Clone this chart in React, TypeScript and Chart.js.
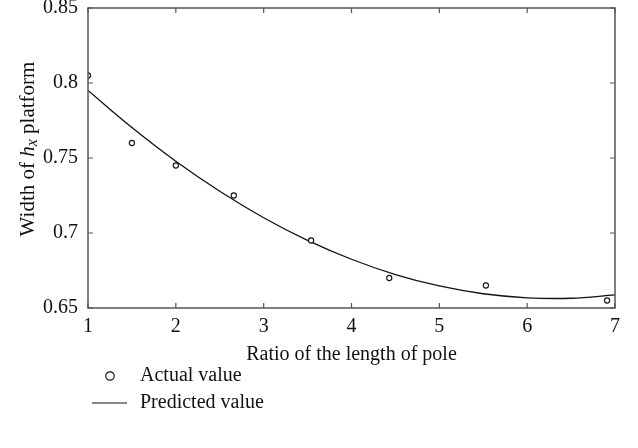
import React, { useEffect, useRef } from "react";
import { Chart, registerables } from "chart.js";

Chart.register(...registerables);

const actualX = [1.0, 1.5, 2.0, 2.66, 3.54, 4.43, 5.53, 6.91];
const actualY = [0.805, 0.76, 0.745, 0.725, 0.695, 0.67, 0.665, 0.655];

const predictedX = [1, 1.5, 2, 2.5, 3, 3.5, 4, 4.5, 5, 5.5, 6, 6.5, 7];
const predictedY = [0.795, 0.7703, 0.7478, 0.7278, 0.7102, 0.6951, 0.6825, 0.6723, 0.6647, 0.6595, 0.6568, 0.6565, 0.6587];

const xTicks = [1, 2, 3, 4, 5, 6, 7];
const yTicks = [0.65, 0.7, 0.75, 0.8, 0.85];

const xTitle = "Ratio of the length of pole";
const yTitleParts = [
  { text: "Width of ", italic: false, sub: false },
  { text: "h", italic: true, sub: false },
  { text: "x", italic: true, sub: true },
  { text: " platform", italic: false, sub: false },
];
const legendLabels = ["Actual value", "Predicted value"];

const FONT = "'Liberation Serif', 'DejaVu Serif', serif";
const AXIS = "#555555";
const FS = 20;

export default function App() {
  const ref = useRef<HTMLCanvasElement>(null);

  useEffect(() => {
    document.body.style.margin = "0";
    const canvas = ref.current;
    if (!canvas) return;

    const framePlugin = {
      id: "frame",
      afterDraw(chart: any) {
        const ctx = chart.ctx;
        const { left, right, top, bottom } = chart.chartArea;
        const xs = chart.scales.x;
        const ys = chart.scales.y;
        ctx.save();
        ctx.strokeStyle = AXIS;
        ctx.lineWidth = 1.5;
        ctx.strokeRect(left, top, right - left, bottom - top);
        ctx.lineWidth = 1.2;
        const tl = 5;
        ctx.beginPath();
        xTicks.forEach((v) => {
          const px = xs.getPixelForValue(v);
          ctx.moveTo(px, bottom);
          ctx.lineTo(px, bottom - tl);
          ctx.moveTo(px, top);
          ctx.lineTo(px, top + tl);
        });
        yTicks.forEach((v) => {
          const py = ys.getPixelForValue(v);
          ctx.moveTo(left, py);
          ctx.lineTo(left + tl, py);
          ctx.moveTo(right, py);
          ctx.lineTo(right - tl, py);
        });
        ctx.stroke();

        // y title
        ctx.fillStyle = "#111";
        ctx.textBaseline = "middle";
        const size = 21;
        const fontFor = (p: any) =>
          `${p.italic ? "italic " : ""}${p.sub ? Math.round(size * 0.75) : size}px ${FONT}`;
        let total = 0;
        yTitleParts.forEach((p) => {
          ctx.font = fontFor(p);
          total += ctx.measureText(p.text).width;
        });
        ctx.translate(28, 149);
        ctx.rotate(-Math.PI / 2);
        let x = -total / 2;
        yTitleParts.forEach((p) => {
          ctx.font = fontFor(p);
          ctx.fillText(p.text, x, p.sub ? 5 : 0);
          x += ctx.measureText(p.text).width;
        });
        ctx.restore();

        // legend
        ctx.save();
        const ds0 = chart.data.datasets[0];
        const ds1 = chart.data.datasets[1];
        ctx.font = `${FS}px ${FONT}`;
        ctx.fillStyle = "#111";
        ctx.textBaseline = "middle";
        ctx.strokeStyle = ds0.borderColor;
        ctx.lineWidth = 1.2;
        ctx.beginPath();
        ctx.arc(110, 376, 4.2, 0, Math.PI * 2);
        ctx.stroke();
        ctx.fillText(legendLabels[0], 140, 376);
        ctx.strokeStyle = ds1.borderColor;
        ctx.beginPath();
        ctx.moveTo(92, 403);
        ctx.lineTo(127, 403);
        ctx.stroke();
        ctx.fillText(legendLabels[1], 140, 403);
        ctx.restore();
      },
    };

    const chart = new Chart(canvas, {
      type: "scatter",
      data: {
        datasets: [
          {
            label: legendLabels[0],
            data: actualX.map((x, i) => ({ x, y: actualY[i] })),
            showLine: false,
            pointStyle: "circle",
            pointRadius: 2.6,
            pointBorderWidth: 1.1,
            borderColor: "#111",
            backgroundColor: "#fff",
            order: 0,
          },
          {
            label: legendLabels[1],
            data: predictedX.map((x, i) => ({ x, y: predictedY[i] })),
            showLine: true,
            pointRadius: 0,
            borderColor: "#111",
            borderWidth: 1.3,
            tension: 0.4,
            fill: false,
            order: 1,
          },
        ],
      },
      options: {
        animation: false,
        responsive: false,
        layout: { padding: { top: 8, right: 23, bottom: 0, left: 0 } },
        plugins: { legend: { display: false }, tooltip: { enabled: false } },
        scales: {
          x: {
            type: "linear",
            min: 1,
            max: 7,
            afterFit: (s: any) => {
              s.height = 140;
              s.paddingLeft = 0;
              s.paddingRight = 0;
            },
            afterBuildTicks: (s: any) => {
              s.ticks = xTicks.map((v) => ({ value: v }));
            },
            grid: { display: false, drawTicks: false },
            border: { display: false },
            ticks: {
              padding: 7,
              color: "#111",
              font: { family: FONT, size: FS },
              maxRotation: 0,
              callback: (v: any) => String(v),
            },
            title: {
              display: true,
              text: xTitle,
              color: "#111",
              font: { family: FONT, size: FS },
              padding: { top: 0, bottom: 81 },
            },
          },
          y: {
            type: "linear",
            min: 0.65,
            max: 0.85,
            afterFit: (s: any) => {
              s.width = 88;
              s.paddingTop = 0;
              s.paddingBottom = 0;
            },
            afterBuildTicks: (s: any) => {
              s.ticks = yTicks.map((v) => ({ value: v }));
            },
            grid: { display: false, drawTicks: false },
            border: { display: false },
            ticks: {
              padding: 10,
              color: "#111",
              font: { family: FONT, size: FS },
              callback: (v: any) => String(+Number(v).toFixed(2)),
            },
          },
        },
      },
      plugins: [framePlugin],
    });

    return () => chart.destroy();
  }, []);

  return (
    <div style={{ width: 638, height: 448 }}>
      <canvas ref={ref} width={638} height={448} style={{ display: "block" }} />
    </div>
  );
}
